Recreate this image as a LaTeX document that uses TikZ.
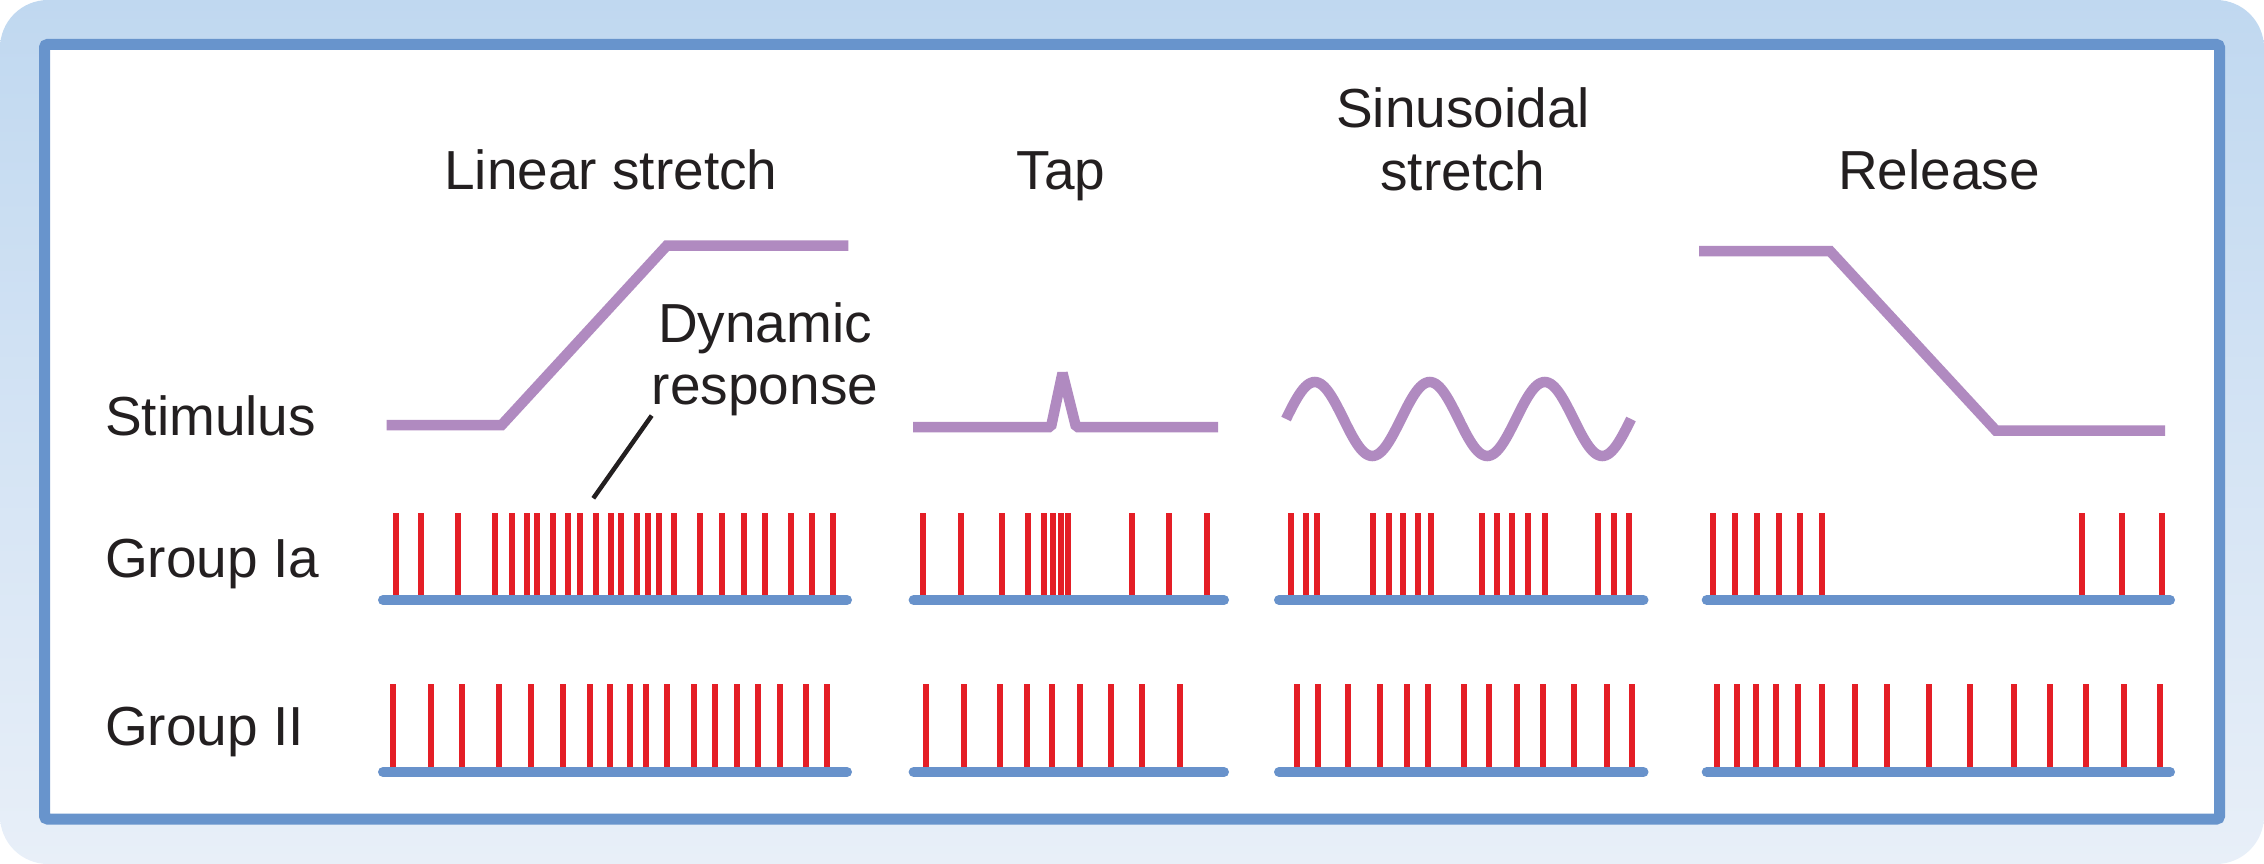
\documentclass[tikz,border=0pt]{standalone}
\usepackage{fontspec}
\setmainfont{Liberation Sans}
\definecolor{bgtop}{RGB}{192,216,240}
\definecolor{bgbot}{RGB}{232,239,248}
\definecolor{framec}{RGB}{104,148,204}
\definecolor{basec}{RGB}{104,146,203}
\definecolor{spkc}{RGB}{228,30,38}
\definecolor{stimc}{RGB}{176,138,192}
\definecolor{txt}{RGB}{35,31,32}
\begin{document}
\begin{tikzpicture}[x=1pt,y=-1pt,
  lbl/.style={font=\fontsize{55}{62}\selectfont, text=txt, inner sep=0pt},
  stim/.style={draw=stimc, line width=10.5pt, line join=miter},
  spk/.style={draw=spkc, line width=6pt},
  baseln/.style={draw=basec, line width=10pt, line cap=round},
  leader/.style={draw=txt, line width=4.5pt}]
\useasboundingbox (0,0) rectangle (2264,864);
% background and frame
\shade[top color=bgtop, bottom color=bgbot, rounded corners=48pt] (0,0) rectangle (2264,864);
\draw[draw=framec, fill=white, line width=11pt, rounded corners=3pt] (44.5,44.5) rectangle (2219.5,819);
% row labels
\node[lbl, anchor=base west] (stimlbl) at (105,435) {Stimulus};
\node[lbl, anchor=base west] (ialbl) at (105,577) {Group Ia};
\node[lbl, anchor=base west] (iilbl) at (105,745) {Group II};
% column titles
\node[lbl, anchor=base] (tlin) at (611,189) {Linear stretch};
\node[lbl, anchor=base] (ttap) at (1061,189) {Tap};
\node[lbl, anchor=base] (tsin1) at (1463,128) {Sinusoidal};
\node[lbl, anchor=base] (tsin2) at (1463,190) {stretch};
\node[lbl, anchor=base] (trel) at (1939,189) {Release};
% dynamic response label
\node[lbl, anchor=base] (dyn1) at (765,342) {Dynamic};
\node[lbl, anchor=base] (dyn2) at (765,404) {response};
\coordinate (dynpt) at (593.3,498.3);
\draw[leader] (dyn2.south west) -- (dynpt);
% stimuli
\draw[stim] (386.7,425) -- (501.7,425) -- (666.7,245.7) -- (848.3,245.7);
\draw[stim, line join=bevel] (913,427) -- (1051,427) -- (1062.5,373) -- (1076,427) -- (1218,427);
\draw[stim] plot[domain=0:1080, samples=181, smooth] ({1286+\x/3.1304}, {419-37*sin(\x)});
\draw[stim] (1699,251) -- (1830,251) -- (1996,430.7) -- (2165,430.7);
% Group Ia spikes
\foreach \x in {395.7,420.7,457.7,494.7,511.7,526.7,536.7,552.7,567.7,579.7,595.7,610.7,620.7,636.7,647.7,658.7,673.7,699.7,721.7,743.7,764.7,790.7,811.7,832.7,
  923.4,960.7,1002.4,1028.2,1044,1052.6,1061.2,1068.4,1132,1169.3,1206.6,
  1291.3,1305.6,1317.1,1373,1388.8,1403.2,1417.5,1430.5,1482.1,1496.9,1512.2,1528,1545.2,1598.3,1614.1,1628.9,
  1712.7,1734.7,1756.7,1778.7,1799.7,1821.7,2081.7,2121.7,2161.7}
  \draw[spk] (\x,513) -- (\x,600);
% Group II spikes
\foreach \x in {392.7,430.7,461.7,498.7,530.7,562.7,589.7,609.7,629.7,645.7,666.7,693.7,714.7,736.7,757.7,779.7,805.7,826.7,
  926.3,963.6,999.5,1027.2,1051.6,1080.3,1110.5,1141.5,1179.8,
  1296.5,1317.6,1347.7,1379.7,1406.5,1427.6,1463.5,1489.3,1516.5,1542.8,1574.4,1606.9,1632.3,
  1716.7,1736.7,1755.7,1775.7,1797.7,1821.7,1854.7,1886.7,1928.7,1969.7,2013.7,2049.7,2085.7,2123.7,2159.7}
  \draw[spk] (\x,684) -- (\x,772);
% baselines
\foreach \a/\b in {383/847, 913.6/1224, 1279/1643.5, 1706.7/2170}{
  \draw[baseln] (\a,600) -- (\b,600);
  \draw[baseln] (\a,772) -- (\b,772);
}
\end{tikzpicture}
\end{document}
